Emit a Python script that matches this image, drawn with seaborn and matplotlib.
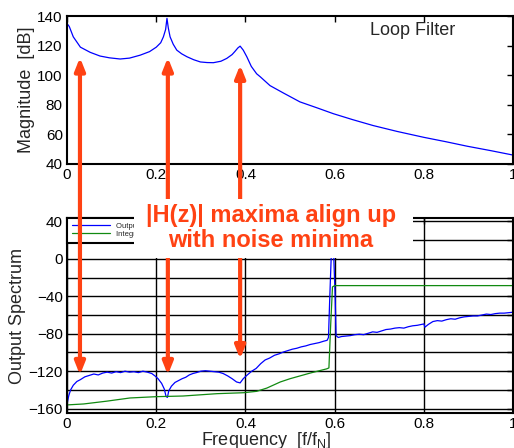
#! /usr/bin/env python3
# coding: utf-8
"""
Loop filter magnitude vs. output spectrum, with arrows showing that
|H(z)| maxima line up with the noise minima.

Output:
  - out.png
"""
import numpy as np
import pandas as pd
import matplotlib.pyplot as plt
import seaborn as sb
from matplotlib.patches import ConnectionPatch, Rectangle
from matplotlib.ticker import MultipleLocator

# Loop filter magnitude [dB]
filt_freq = [0.0, 0.005, 0.014, 0.03, 0.052, 0.074, 0.095, 0.119, 0.14, 0.164,
             0.185, 0.2, 0.21, 0.216, 0.221, 0.224, 0.227, 0.231, 0.238, 0.246,
             0.257, 0.269, 0.284, 0.299, 0.314, 0.328, 0.345, 0.358, 0.37, 0.376,
             0.383, 0.388, 0.395, 0.403, 0.413, 0.425, 0.433, 0.455, 0.485, 0.522,
             0.56, 0.597, 0.64, 0.686, 0.74, 0.8, 0.85, 0.897, 0.95, 1.0]
filt_mag = [135, 133, 126, 119, 115.5, 113, 111.8, 111, 111.6, 113.6,
            116, 119, 122, 126, 131, 138.5, 132, 126, 121, 117,
            114.5, 112.5, 110.5, 109, 108.6, 108.5, 109.5, 111.4, 114, 116,
            118.5, 119.7, 117, 112.5, 106, 101, 99, 93, 88, 82,
            78, 74, 70, 66, 62, 58, 55, 52, 49, 46]

# Output spectrum [dB]
out_freq = [0.0, 0.004, 0.008, 0.014, 0.022, 0.03, 0.04, 0.05, 0.06, 0.07,
            0.08, 0.09, 0.1, 0.11, 0.12, 0.13, 0.14, 0.15, 0.16, 0.17,
            0.18, 0.19, 0.197, 0.204, 0.212, 0.218, 0.222, 0.225, 0.228, 0.234,
            0.242, 0.25, 0.258, 0.266, 0.274, 0.282, 0.29, 0.3, 0.31, 0.32,
            0.33, 0.34, 0.35, 0.36, 0.37, 0.38, 0.388, 0.395, 0.404, 0.414,
            0.424, 0.434, 0.444, 0.454, 0.465, 0.475, 0.485, 0.495, 0.505, 0.515,
            0.525, 0.535, 0.545, 0.555, 0.565, 0.575, 0.583, 0.586, 0.589, 0.592,
            0.595, 0.598, 0.601, 0.603, 0.608, 0.615, 0.625, 0.635, 0.645, 0.655,
            0.665, 0.675, 0.685, 0.695, 0.705, 0.715, 0.725, 0.735, 0.745, 0.755,
            0.765, 0.775, 0.785, 0.795, 0.8, 0.802, 0.81, 0.82, 0.83, 0.84,
            0.85, 0.86, 0.87, 0.88, 0.89, 0.9, 0.91, 0.92, 0.93, 0.94,
            0.95, 0.96, 0.97, 0.98, 0.99, 1.0]
out_spec = [-155, -146, -140, -135, -131, -129, -126, -124.5, -123, -124,
            -122, -121, -122, -120.5, -121.5, -120, -121, -120.5, -121.5, -120,
            -121, -122.5, -125, -128, -133, -139, -147, -148, -141, -136,
            -132, -130, -128, -126.5, -124, -122.5, -121.5, -120, -119.5, -120,
            -120.5, -121, -122.5, -125, -128, -131.5, -132.5, -128, -124, -120,
            -117, -112, -108, -106, -103, -101.5, -99.5, -98, -96.5, -95.5,
            -94, -93, -91.5, -90.5, -89.5, -88, -87, -84, -40, 0,
            20, 0, -40, -82, -84, -83, -82.5, -82, -81, -80.5,
            -81, -79.5, -78, -78.5, -77, -75.5, -75, -74, -73.5, -74,
            -72.5, -71.5, -71, -70, -69.5, -73, -70, -67, -66, -66.5,
            -65, -64, -64.5, -63, -62, -61.5, -61, -61, -60, -59,
            -59.5, -58.5, -58, -58, -57.5, -57]

# Integrated noise [dB]
int_freq = [0.0, 0.037, 0.089, 0.141, 0.2, 0.26, 0.336, 0.395, 0.425, 0.448,
            0.478, 0.5, 0.545, 0.582, 0.587, 0.591, 0.595, 0.6, 1.0]
int_noise = [-156, -155, -152, -148.6, -147.2, -146.5, -144, -143, -141.5, -138,
             -131.5, -128, -122, -117.5, -116.5, -70, -30, -28.6, -28.6]

# Arrow positions: (freq, top tip in filter dB, bottom tip in spectrum dB)
arrow_freq = [0.029, 0.226, 0.388]
arrow_top = [112, 112, 107]
arrow_bottom = [-124, -124, -107]

RED = '#ff4213'


def style_axes(ax):
    for side in ['top', 'bottom', 'left', 'right']:
        ax.spines[side].set_visible(True)
        ax.spines[side].set_color('black')
        ax.spines[side].set_linewidth(1.5)
    ax.tick_params(which='both', direction='in', top=True, right=True,
                   length=4, width=1, labelsize=11, pad=3, colors='black')
    ax.set_xlim(0, 1)
    ax.set_xticks([0, 0.2, 0.4, 0.6, 0.8, 1.0])
    ax.set_xticklabels(['0', '0.2', '0.4', '0.6', '0.8', '1'])


if __name__ == '__main__':
    sb.set_style('white')
    plt.rcParams['font.family'] = ['Liberation Sans', 'DejaVu Sans']

    fig = plt.figure(figsize=(5.14, 4.48), dpi=100)
    ax1 = fig.add_axes([0.1304, 0.634, 0.868, 0.330])
    ax2 = fig.add_axes([0.1304, 0.078, 0.868, 0.4354])

    # 1. Loop filter
    filt = pd.DataFrame({'f': filt_freq, 'mag': filt_mag})
    sb.lineplot(data=filt, x='f', y='mag', ax=ax1, color='#0000ff',
                linewidth=0.9, estimator=None)
    style_axes(ax1)
    ax1.set_ylim(40, 140)
    ax1.set_yticks(range(40, 141, 20))
    ax1.set_xlabel('')
    ax1.set_ylabel('Magnitude  [dB]', fontsize=13, labelpad=2)
    ax1.text(0.68, 0.87, 'Loop Filter', transform=ax1.transAxes, fontsize=13)

    # 2. Output spectrum
    out = pd.DataFrame({'f': out_freq, 'spec': out_spec})
    integ = pd.DataFrame({'f': int_freq, 'noise': int_noise})
    sb.lineplot(data=out, x='f', y='spec', ax=ax2, color='#0000ff',
                linewidth=0.9, estimator=None, label='Output Spectrum')
    sb.lineplot(data=integ, x='f', y='noise', ax=ax2, color='#118a11',
                linewidth=0.9, estimator=None, label='Integrated Noise')
    style_axes(ax2)
    ax2.set_ylim(-164.7, 43.6)
    ax2.set_yticks(range(-160, 41, 40))
    ax2.yaxis.set_minor_locator(MultipleLocator(20))
    ax2.grid(which='both', color='black', linewidth=1.0)
    ax2.set_axisbelow(True)
    ax2.set_ylabel('Output Spectrum', fontsize=13, labelpad=2)
    ax2.set_xlabel('Frequency  [f/f$_\\mathregular{N}$]', fontsize=13, labelpad=1)
    ax2.xaxis.set_label_coords(0.446, -0.085)
    leg = ax2.legend(loc='upper left', fontsize=5.5, frameon=True, fancybox=False,
                     borderaxespad=0.0, handlelength=5, borderpad=0.6,
                     labelspacing=0.1)
    leg.get_frame().set_edgecolor('black')
    leg.get_frame().set_linewidth(1.5)
    leg.get_frame().set_alpha(1)

    # Double-headed arrows across both panels
    for f, top, bottom in zip(arrow_freq, arrow_top, arrow_bottom):
        con = ConnectionPatch(xyA=(f, top), coordsA=ax1.transData,
                              xyB=(f, bottom), coordsB=ax2.transData,
                              arrowstyle='<|-|>,head_length=0.75,head_width=0.3',
                              mutation_scale=10, color=RED, linewidth=3,
                              shrinkA=0, shrinkB=0, zorder=2)
        fig.add_artist(con)

    # White box with the annotation
    fig.add_artist(Rectangle((134 / 514, 1 - 258 / 448), 279 / 514, 59 / 448,
                             transform=fig.transFigure, facecolor='white',
                             edgecolor='none', zorder=3))
    fig.text(271 / 514, 1 - 228 / 448, '|H(z)| maxima align up\nwith noise minima',
             ha='center', va='center', fontsize=17, fontweight='bold',
             color=RED, linespacing=1.1, zorder=4)

    plt.savefig('out.png', dpi=100)
